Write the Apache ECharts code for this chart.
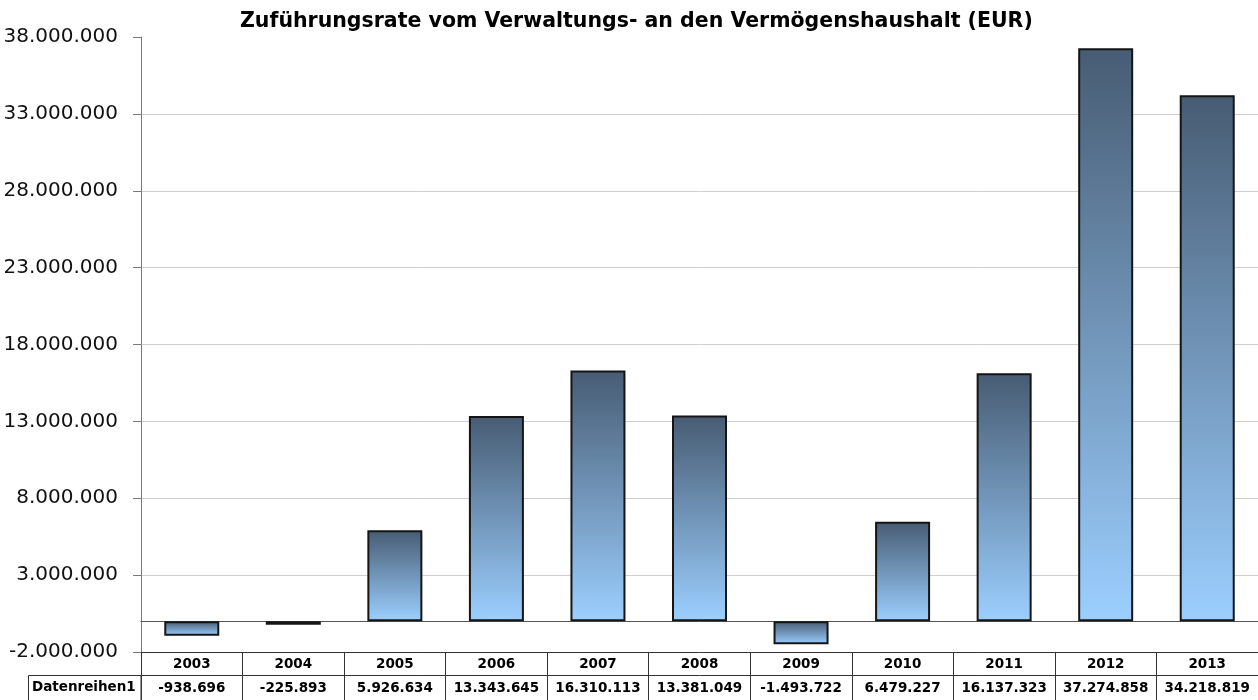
<!DOCTYPE html>
<html>
<head>
<meta charset="utf-8">
<script src="https://cdn.jsdelivr.net/npm/echarts@6/dist/echarts.min.js"></script>
<style>
  html, body { margin: 0; padding: 0; background: #fff; }
  #main { width: 1258px; height: 700px; }
</style>
</head>
<body>
<div id="main"></div>
<script>
  // Jahre und Zuführungsraten (EUR)
  var years = ["2003", "2004", "2005", "2006", "2007", "2008", "2009", "2010", "2011", "2012", "2013"];
  var values = [-938696, -225893, 5926634, 13343645, 16310113, 13381049, -1493722, 6479227, 16137323, 37274858, 34218819];
  var seriesName = "Datenreihen1";

  // deutsche Tausendertrennung
  function fmt(n) {
    var s = String(Math.abs(Math.round(n))).replace(/\B(?=(\d{3})+(?!\d))/g, ".");
    return (n < 0 ? "-" : "") + s;
  }

  var font = "DejaVu Sans";
  var lineCol = "#333";

  var myChart = echarts.init(document.getElementById("main"));
  myChart.setOption({
    animation: false,
    textStyle: { fontFamily: font },
    title: {
      text: "Zuführungsrate vom Verwaltungs- an den Vermögenshaushalt (EUR)",
      left: 240,
      top: 11,
      padding: 0,
      textStyle: { fontFamily: font, fontSize: 20.5, fontWeight: "bold", color: "#000" }
    },
    grid: { left: 141, right: 0, top: 37, bottom: 48, containLabel: false },
    xAxis: [
      {
        // Nulllinie
        type: "category",
        data: years,
        position: "bottom",
        axisLine: { onZero: true, lineStyle: { color: "#555", width: 1 } },
        axisTick: { show: false },
        axisLabel: { show: false },
        splitLine: { show: false }
      },
      {
        // Tabellenkopf mit Jahren
        type: "category",
        data: years,
        position: "bottom",
        offset: 0,
        axisLine: { onZero: false, lineStyle: { color: lineCol, width: 1 } },
        axisTick: { show: true, length: 23, lineStyle: { color: lineCol } },
        axisLabel: { interval: 0, margin: 5, fontSize: 13.5, fontWeight: "bold", color: "#000", fontFamily: font }
      },
      {
        // Tabellenzeile mit Werten
        type: "category",
        data: values.map(fmt),
        position: "bottom",
        offset: 23,
        axisLine: { onZero: false, lineStyle: { color: lineCol, width: 1 } },
        axisTick: { show: true, length: 26, lineStyle: { color: lineCol } },
        axisLabel: { interval: 0, margin: 6, fontSize: 13.5, fontWeight: "bold", color: "#000", fontFamily: font }
      }
    ],
    yAxis: {
      type: "value",
      min: -2000000,
      max: 38000000,
      interval: 5000000,
      axisLine: { show: true, lineStyle: { color: "#777" } },
      axisTick: { show: true, length: 8, lineStyle: { color: "#777" } },
      axisLabel: {
        margin: 23,
        fontSize: 20,
        color: "#111",
        fontFamily: font,
        formatter: function (v) { return fmt(v); }
      },
      splitLine: { show: true, showMaxLine: false, lineStyle: { color: "#cfcfcf" } }
    },
    graphic: [
      {
        type: "rect",
        shape: { x: 28.5, y: 675.5, width: 112.5, height: 30 },
        style: { fill: "none", stroke: lineCol, lineWidth: 1 }
      },
      {
        type: "text",
        left: 32,
        top: 680,
        style: { text: seriesName, font: "bold 13.5px " + font, fill: "#000" }
      }
    ],
    series: [
      {
        name: seriesName,
        type: "bar",
        xAxisIndex: 0,
        data: values,
        barWidth: 55,
        itemStyle: {
          borderColor: "#151515",
          borderWidth: 2,
          color: new echarts.graphic.LinearGradient(0, 0, 0, 1, [
            { offset: 0, color: "#475c73" },
            { offset: 1, color: "#9ccfff" }
          ])
        }
      }
    ]
  });
</script>
</body>
</html>
